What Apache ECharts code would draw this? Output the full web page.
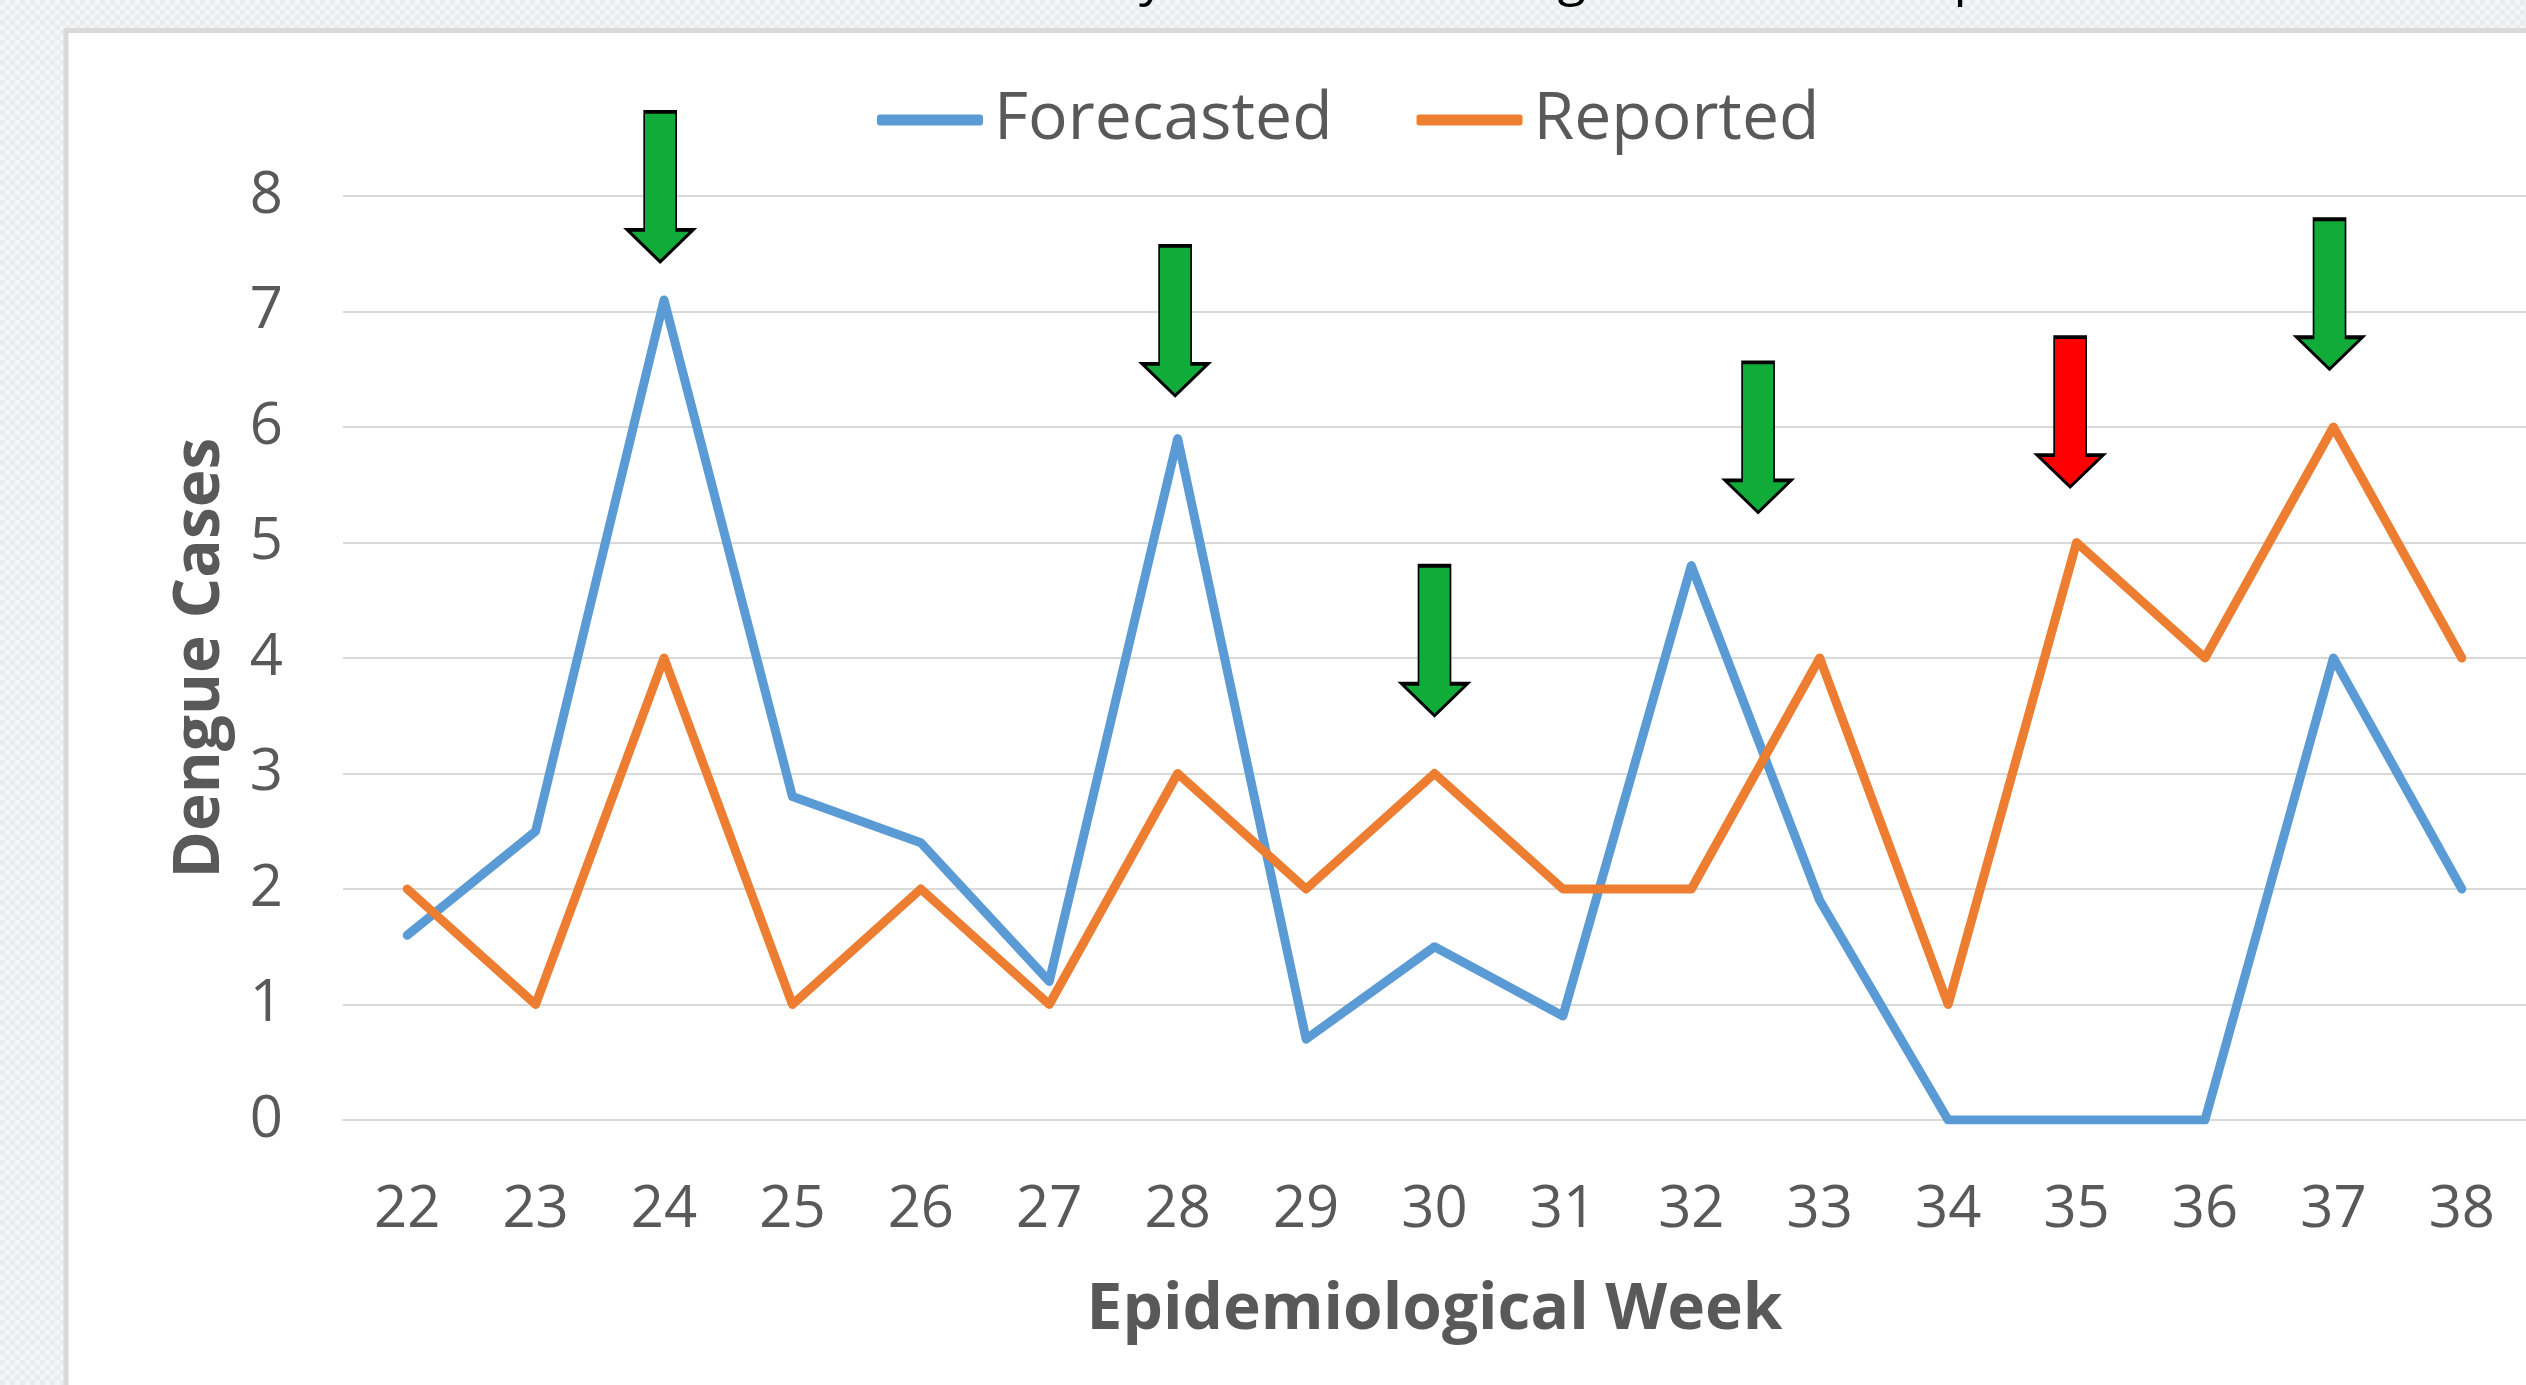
<!DOCTYPE html>
<html>
<head>
<meta charset="utf-8">
<script src="https://cdn.jsdelivr.net/npm/echarts@6/dist/echarts.min.js"></script>
<style>
  html, body { margin: 0; padding: 0; }
  body {
    width: 2526px; height: 1385px; overflow: hidden;
    background-color: #eef0f2;
    background-image: repeating-conic-gradient(#f4f5f7 0 25%, #e9ebee 0 50%);
    background-size: 10px 10px;
  }
  #chart { position: absolute; left: 0; top: 0; width: 2526px; height: 1385px; }
</style>
</head>
<body>
<div id="chart"></div>
<script>
// ---- data ----
const weeks = ['22','23','24','25','26','27','28','29','30','31','32','33','34','35','36','37','38'];
const forecasted = [1.6, 2.5, 7.1, 2.8, 2.4, 1.2, 5.9, 0.7, 1.5, 0.9, 4.8, 1.9, 0, 0, 0, 4.0, 2.0];
const reported   = [2, 1, 4, 1, 2, 1, 3, 2, 3, 2, 2, 4, 1, 5, 4, 6, 4];
const yMin = 0, yMax = 8, yStep = 1;

// annotation arrows (week position, value at arrow tip, colour)
const arrowWeeks  = [23.97, 27.98, 30.0, 32.52, 34.95, 36.97];
const arrowTips   = [7.43, 6.27, 3.50, 5.26, 5.48, 6.50];
const arrowColors = ['#10AB39', '#10AB39', '#10AB39', '#10AB39', '#FF0000', '#10AB39'];

const titleText = 'Weekly Forecasted Dengue Cases vs. Reported Cases';

// ---- chart ----
const FONT = '"Open Sans", "Noto Sans", sans-serif';
const GRAY = '#595959';
const chart = echarts.init(document.getElementById('chart'), null, { renderer: 'canvas' });

const arrowPath = 'path://M17,0 L49,0 L49,118 L66,118 L33,150 L0,118 L17,118 Z';

// place the (clipped) title so its descenders sit where the reference shows them
const titleSize = 52;
const ctx = document.createElement('canvas').getContext('2d');
ctx.font = titleSize + 'px "Open Sans"';
const preY = ctx.measureText(titleText.slice(0, titleText.indexOf('y'))).width
           + ctx.measureText('y').width / 2;
const titleX = 1152 - preY;

chart.setOption({
  backgroundColor: 'transparent',
  animation: false,
  graphic: [
    {
      type: 'rect', z: -10, silent: true,
      shape: { x: 66, y: 30.5, width: 2526, height: 1400 },
      style: { fill: '#ffffff', stroke: '#d9d9d9', lineWidth: 5 }
    },
    {
      type: 'text', z: 10, silent: true,
      x: titleX, y: -20,
      style: {
        text: titleText, fill: '#000000',
        font: titleSize + 'px ' + FONT,
        textAlign: 'left', textVerticalAlign: 'middle'
      }
    }
  ],
  legend: {
    data: ['Forecasted', 'Reported'],
    left: 872, top: 82,
    itemWidth: 106, itemHeight: 11, itemGap: 84,
    icon: 'roundRect',
    textStyle: { color: GRAY, fontSize: 66, fontFamily: FONT, padding: [0, 0, 0, 6] }
  },
  grid: { left: 343, right: 0, top: 196, bottom: 265, containLabel: false },
  xAxis: [
    {
      type: 'category', data: weeks, boundaryGap: true,
      axisLine: { show: true, lineStyle: { color: '#d9d9d9', width: 2 } },
      axisTick: { show: false },
      axisLabel: { color: GRAY, fontSize: 58, fontFamily: FONT, margin: 61 },
      name: 'Epidemiological Week', nameLocation: 'middle', nameGap: 159,
      nameTextStyle: { color: GRAY, fontSize: 64, fontWeight: 'bold', fontFamily: FONT }
    },
    {
      type: 'value', min: 21.5, max: 38.5, show: false
    }
  ],
  yAxis: {
    type: 'value', min: yMin, max: yMax, interval: yStep,
    axisLine: { show: false }, axisTick: { show: false },
    splitLine: { lineStyle: { color: '#d9d9d9', width: 2 } },
    axisLabel: { color: GRAY, fontSize: 58, fontFamily: FONT, margin: 60 },
    name: 'Dengue Cases', nameLocation: 'middle', nameGap: 110, nameRotate: 90,
    nameTextStyle: { color: GRAY, fontSize: 64, fontWeight: 'bold', fontFamily: FONT }
  },
  series: [
    {
      name: 'Forecasted', type: 'line', data: forecasted,
      symbol: 'none', smooth: false,
      lineStyle: { color: '#5B9BD5', width: 9, join: 'round', cap: 'round' },
      itemStyle: { color: '#5B9BD5' }
    },
    {
      name: 'Reported', type: 'line', data: reported,
      symbol: 'none', smooth: false,
      lineStyle: { color: '#ED7D31', width: 9, join: 'round', cap: 'round' },
      itemStyle: { color: '#ED7D31' }
    },
    {
      name: 'arrows', type: 'scatter', xAxisIndex: 1, z: 5,
      symbol: arrowPath, symbolSize: [66, 150], symbolOffset: [0, -75],
      silent: true,
      data: arrowWeeks.map((w, i) => ({
        value: [w, arrowTips[i]],
        itemStyle: { color: arrowColors[i], borderColor: '#000000', borderWidth: 2.5, opacity: 1 }
      }))
    }
  ]
});
</script>
</body>
</html>
